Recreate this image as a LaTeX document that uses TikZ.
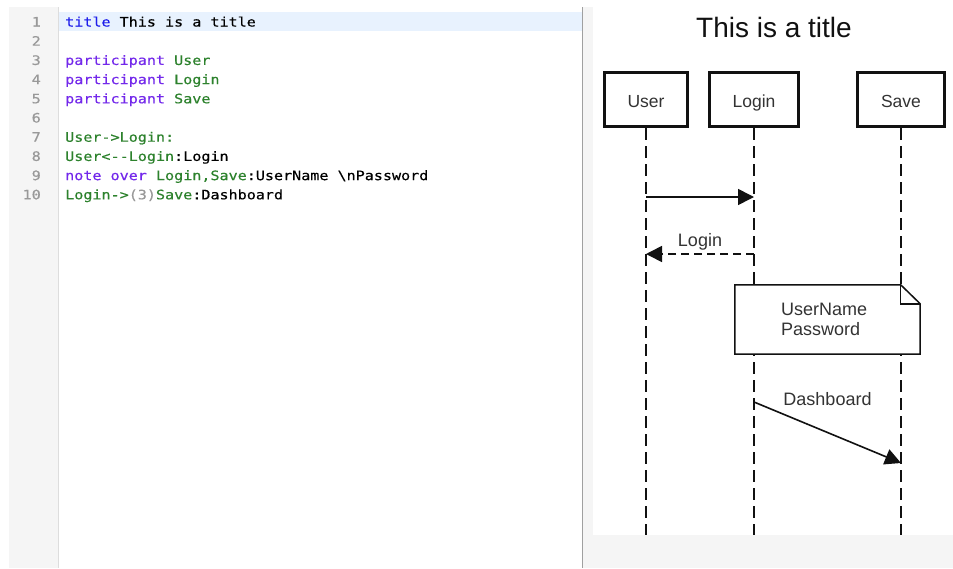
\documentclass[tikz,border=0pt]{standalone}
\usepackage{fontspec}
\setmainfont{Liberation Sans}
\newfontfamily\codefont[FakeStretch=1.16,FakeBold=0.4]{DejaVu Sans Mono}
\usetikzlibrary{arrows.meta}
\definecolor{gutterbg}{HTML}{F5F5F5}
\definecolor{gutterline}{HTML}{DDDDDD}
\definecolor{hilite}{HTML}{E8F2FE}
\definecolor{border}{HTML}{A0A0A0}
\definecolor{kwblue}{RGB}{30,30,235}
\definecolor{kwpurple}{RGB}{115,40,235}
\definecolor{idgreen}{RGB}{45,130,45}
\definecolor{numgray}{HTML}{999999}
\definecolor{inkdark}{HTML}{111111}
\definecolor{txtdark}{HTML}{333333}
\tikzset{
  codeline/.style={anchor=base west, inner sep=0pt, font=\codefont\fontsize{13}{15}\selectfont, text=black},
  lnum/.style={anchor=base east, inner sep=0pt, font=\codefont\fontsize{13}{15}\selectfont, text=numgray},
  pbox/.style={draw=inkdark, line width=3pt, fill=white, minimum height=54pt, inner sep=0pt, text height=16.4pt, text depth=0pt, text=txtdark, font=\fontsize{17.5}{20}\selectfont},
  lifeline/.style={draw=inkdark, line width=2pt, dash pattern=on 12pt off 6pt},
  msg/.style={draw=inkdark, line width=1.6pt, -{Triangle[length=16pt,width=16pt]}},
  rmsg/.style={msg, dash pattern=on 8pt off 5pt},
  lbl/.style={anchor=base, inner sep=0pt, text=txtdark, font=\fontsize{18}{21}\selectfont},
  notebox/.style={draw=inkdark, line width=1.5pt, fill=white}
}
\begin{document}
\begin{tikzpicture}[x=1pt,y=-1pt]
\useasboundingbox (0,0) rectangle (953,568);
\fill[white] (0,0) rectangle (953,568);
% editor
\fill[gutterbg] (9,7) rectangle (58,568);
\draw[gutterline, line width=1pt] (58.5,7) -- (58.5,568);
\fill[hilite] (59,12) rectangle (582,31);
\fill[gutterbg] (583,7) rectangle (593,568);
\fill[gutterbg] (593,535) rectangle (953,568);
\draw[border, line width=1.5pt] (582.5,7) -- (582.5,568);
% line numbers
\foreach \i in {1,...,10} {
  \node[lnum] (n\i) at (41,{26.5+19.2*(\i-1)}) {\i};
}
\node[codeline] (c1) at (65,26.5) {\textcolor{kwblue}{title} This is a title};
\node[codeline] (c3) at (65,64.9) {\textcolor{kwpurple}{participant} \textcolor{idgreen}{User}};
\node[codeline] (c4) at (65,84.1) {\textcolor{kwpurple}{participant} \textcolor{idgreen}{Login}};
\node[codeline] (c5) at (65,103.3) {\textcolor{kwpurple}{participant} \textcolor{idgreen}{Save}};
\node[codeline] (c7) at (65,141.7) {\textcolor{idgreen}{User->Login:}};
\node[codeline] (c8) at (65,160.9) {\textcolor{idgreen}{User<-{}-Login}:Login};
\node[codeline] (c9) at (65,180.1) {\textcolor{kwpurple}{note over} \textcolor{idgreen}{Login,Save}:UserName \textbackslash nPassword};
\node[codeline] (c10) at (65,199.3) {\textcolor{idgreen}{Login->}\textcolor{numgray}{(3)}\textcolor{idgreen}{Save}:Dashboard};
% diagram
\node[anchor=base, inner sep=0pt, text=inkdark, font=\fontsize{28}{32}\selectfont] (title) at (774,37) {This is a title};
\node[pbox, minimum width=83pt] (user) at (646,99.5) {User};
\node[pbox, minimum width=89pt] (login) at (754,99.5) {Login};
\node[pbox, minimum width=87pt] (save) at (901,99.5) {Save};
\coordinate (ue) at (646,535);
\coordinate (le) at (754,535);
\coordinate (se) at (901,535);
\draw[lifeline] (user.south) -- (ue);
\draw[lifeline] (login.south) -- (le);
\draw[lifeline] (save.south) -- (se);
% message 1
\coordinate (m1a) at (646,197);
\coordinate (m1b) at (754,197);
\draw[msg] (m1a) -- (m1b);
% message 2
\coordinate (m2a) at (754,254);
\coordinate (m2b) at (646,254);
\draw[rmsg] (m2a) -- (m2b);
\node[lbl] (m2l) at (700,246.5) {Login};
% note
\node[inner sep=0pt, minimum width=185pt, minimum height=69pt] (note) at (827.5,319.5) {};
\draw[notebox] (note.north west) -- ([xshift=-19.5pt]note.north east) -- ([yshift=-19pt]note.north east) -- (note.south east) -- (note.south west) -- cycle;
\draw[draw=inkdark, line width=1.5pt] ([xshift=-19.5pt]note.north east) |- ([yshift=-19pt]note.north east);
\node[align=left, inner sep=0pt, text=txtdark, font=\fontsize{18}{19.5}\selectfont, anchor=base west] (notetext) at (781,335) {UserName\\Password};
% message 3
\coordinate (m3a) at (754,402);
\coordinate (m3b) at (901,463);
\draw[msg] (m3a) -- (m3b);
\node[lbl] (m3l) at (827.5,405) {Dashboard};
\end{tikzpicture}
\end{document}
